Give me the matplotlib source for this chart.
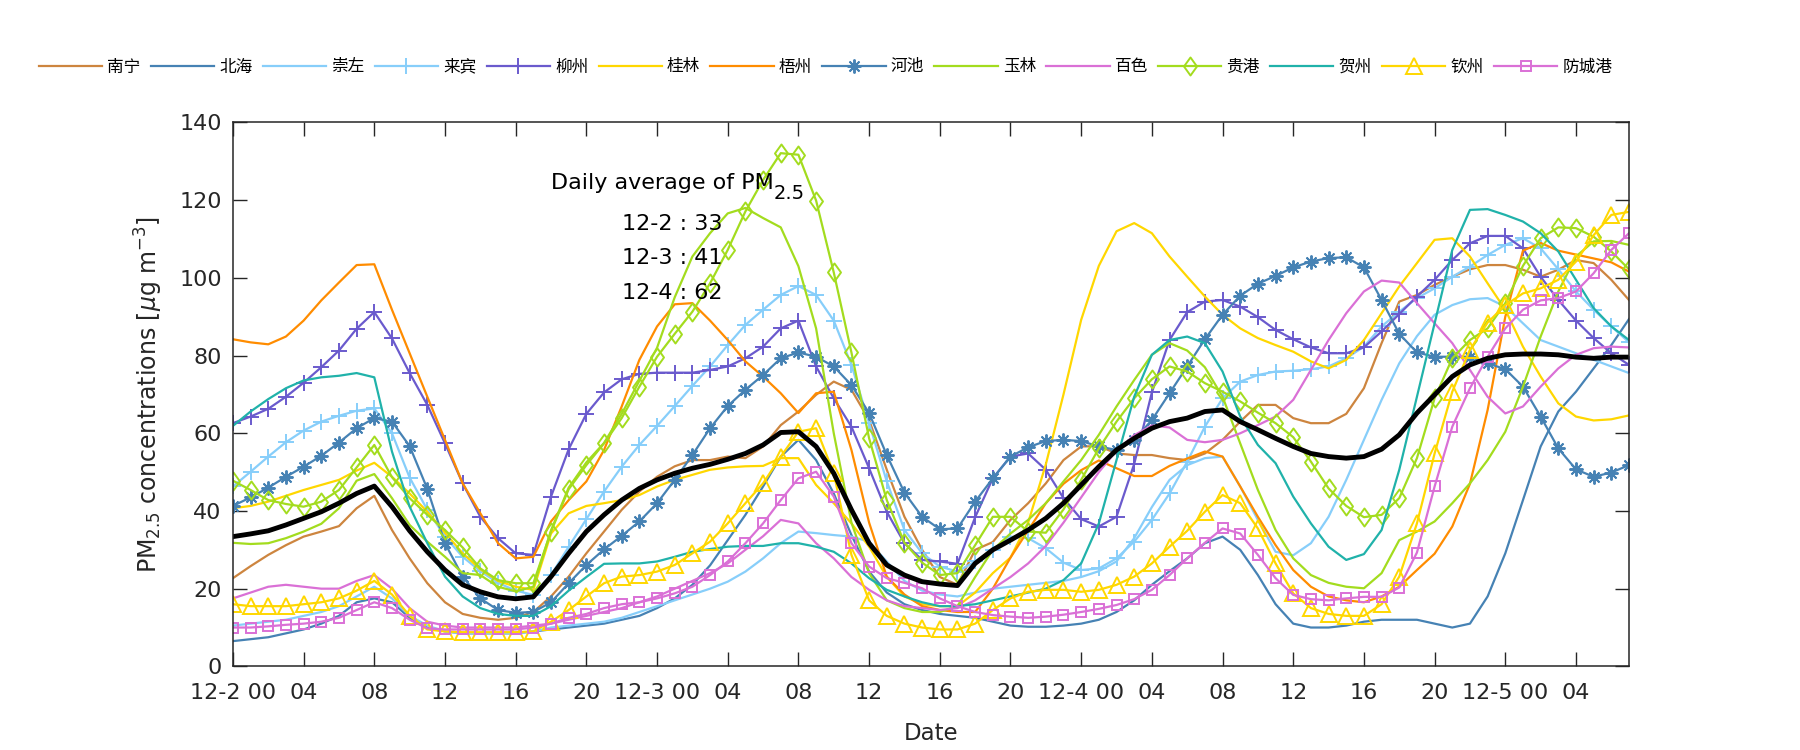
import numpy as np
import matplotlib
matplotlib.use("Agg")
import matplotlib.pyplot as plt
from matplotlib.path import Path

hours = np.arange(80)
tick_pos = list(range(0, 80, 4))
tick_labels = ["12-2 00", "04", "08", "12", "16", "20",
               "12-3 00", "04", "08", "12", "16", "20",
               "12-4 00", "04", "08", "12", "16", "20",
               "12-5 00", "04"]

nanning = [22.7, 25.8, 28.7, 31.2, 33.4, 34.7, 36.1, 40.7, 43.9, 35.1, 27.8, 21.4, 16.5, 13.5, 12.5, 12, 12.5, 14, 18, 23.1,
           29.1, 34.7, 40.3, 45, 48.8, 51.5, 53.1, 53.1, 54, 53.6, 56.6, 62.1, 65.6, 69.9, 73.3, 71.2, 63.4, 50.6, 38.5, 30,
           23, 21, 30, 32, 37.7, 42, 47.1, 53.1, 56.6, 56.7, 54.8, 54.4, 54.4, 53.6, 53.1, 54.8, 58.3, 63, 67.3, 67.3,
           63.9, 62.6, 62.6, 65, 71.6, 83.2, 93.9, 95.6, 98.2, 100.3, 102.2, 103.3, 103.3, 102.1, 100.3, 102.1, 104.6, 103.8, 99.5, 94.3]
beihai = [6.5, 7, 7.5, 8.5, 9.5, 11, 13, 16.5, 17.5, 16.5, 12.5, 10, 9, 8.5, 8.5, 8.5, 8.5, 9, 9.5, 10,
          10.5, 11, 12, 13, 15, 17.5, 21, 26, 32.5, 39, 46.3, 54, 58.3, 53.1, 44.5, 33.8, 24.4, 19, 16, 14.5,
          13.5, 13, 12.5, 11.5, 10.5, 10.2, 10.2, 10.5, 11, 12, 14, 17, 21, 24.5, 27.8, 31.7, 33.4, 30, 23.5, 16,
          11, 10, 10, 10.5, 11.5, 12, 12, 12, 11, 10, 11, 18, 29.1, 42.8, 56.6, 65.6, 70.7, 76.7, 82.7, 89.4]
chongzuo = [10.5, 11, 11.5, 12, 13, 14, 15.5, 18, 20.5, 17.5, 13, 10.5, 9, 8.5, 8.5, 8.5, 8.5, 9, 10, 10.5,
            11, 11.5, 12.5, 14, 15.5, 17, 18.5, 20, 21.8, 24.4, 27.8, 31.7, 34.7, 34.3, 33.8, 33.4, 32.1, 27, 22, 19.5,
            18.5, 18, 19, 20, 20.5, 21, 21.5, 22, 23, 24.5, 27, 33, 41, 48, 51.8, 53.6, 54, 46.3, 37.7, 29.5,
            28.6, 31.7, 38.5, 48, 58.3, 68.6, 78, 85, 90.5, 93, 94.5, 94.8, 92.6, 88.3, 84, 82.3, 80.6, 78.9, 77.2, 75.5]
laibin = [46.3, 50.1, 54, 57.7, 60.7, 63, 64.5, 65.8, 66.4, 60, 48.6, 40.3, 33.4, 28.2, 24.5, 21.5, 19.5, 18.4, 23.5, 30.8,
          37.9, 45, 51.4, 57, 61.9, 67, 72.2, 77.2, 82.7, 87.9, 91.8, 95.6, 97.9, 95.6, 89, 77.6, 62.6, 47.6, 35.1, 29.1,
          25.7, 24.4, 27, 30, 33.4, 33, 30.4, 26.7, 24.8, 25.2, 27.8, 32.1, 37.7, 44.5, 52.7, 61.7, 69, 73.3, 75, 75.9,
          76.1, 76.5, 77.2, 79.3, 82.3, 87.5, 91.3, 94.8, 97.3, 100.3, 102.9, 105.9, 108.5, 110.2, 107.6, 102.2, 96.5, 91.8, 87.5, 83.4]
liuzhou = [62.6, 64.3, 66.3, 69.4, 73, 77, 81.3, 86.9, 91.2, 84.4, 75.5, 67.3, 57.4, 47.1, 38.5, 33, 29.1, 28.7, 43.7, 55.9,
           65, 70.5, 73.9, 75.3, 75.6, 75.6, 75.6, 76.3, 77.2, 79.3, 82.3, 87, 89, 77.2, 69, 61.7, 51, 39.8, 31.7, 27.4,
           27, 26.4, 38.4, 48.4, 54, 54.8, 50.6, 43.3, 37.9, 36, 38.5, 52.1, 70.5, 84, 91.2, 93.9, 94.3, 92.6, 89.9, 86.6,
           84.2, 82.1, 80.6, 80.6, 82.1, 86.2, 90.7, 95.2, 99.5, 104.6, 108.9, 110.8, 110.8, 107.6, 100.3, 94.3, 89, 84.5, 80.6, 77.6]
guilin = [40.7, 41.3, 42.4, 43.9, 45.4, 46.7, 48, 50.4, 52.4, 48.8, 44.5, 39.8, 34.4, 29.1, 25, 22, 20.5, 19.7, 34.2, 39.4,
          41.3, 42, 42.8, 44.1, 46.3, 48, 49.3, 50.6, 51.2, 51.5, 51.6, 53.6, 53.6, 46.7, 42, 36.8, 30.8, 23, 18, 16,
          15.5, 15.5, 19, 24, 28, 37, 52, 70, 89.2, 103.1, 112, 114.1, 111.5, 105.5, 100.3, 95.2, 90.5, 87, 84.5, 82.7,
          81, 78.5, 76.7, 78.9, 84, 90.9, 97.8, 103.8, 109.8, 110.2, 105.5, 98.6, 91.8, 82.3, 74.6, 67.7, 64.3, 63.3, 63.6, 64.6]
wuzhou = [84.2, 83.4, 82.9, 84.9, 89, 94.2, 98.8, 103.3, 103.5, 91.8, 80.6, 69.4, 58.3, 47.1, 39.4, 31.7, 27.8, 28.2, 37.3, 42.8,
          47.6, 55.7, 66.9, 78.9, 87.5, 93.2, 93.5, 89, 84, 78.5, 74.6, 70.3, 65.2, 70.3, 70.7, 55.7, 37, 23.1, 18.5, 15.5,
          14.5, 14, 14, 20, 28, 35, 42, 47, 50.5, 53, 51, 49, 49, 51.6, 53.5, 55.3, 54, 46.3, 38.5, 31.2,
          24.8, 20.5, 18, 17, 16.5, 18, 20.5, 24.8, 29, 36, 47, 66, 90, 107, 109, 107, 106, 105, 104, 101.6]
hechi = [41.3, 43.5, 46, 48.8, 51.4, 54.2, 57.6, 61.3, 63.9, 63, 56.7, 45.7, 31.7, 23.1, 17.5, 14.5, 13.8, 14, 16.5, 21.4,
         26.1, 30.1, 33.6, 37.3, 42, 48, 54.4, 61.3, 67, 71.2, 75, 79.3, 80.8, 79.7, 77.2, 72.4, 65.2, 54.4, 44.7, 38.5,
         35.3, 35.5, 42.4, 48.4, 54, 56.4, 58, 58.3, 58, 56.6, 55.7, 58.3, 63.4, 70.3, 77.2, 84.2, 90.5, 95.4, 98.5, 100.5,
         102.7, 104.2, 105.1, 105.3, 102.7, 94.3, 85.6, 80.8, 79.7, 79.7, 79.7, 78, 76.5, 72, 64.3, 56.1, 50.7, 48.8, 49.9, 51.8]
yulin = [31.8, 31.5, 31.7, 33, 34.7, 36.7, 40.7, 47.8, 49.5, 43.3, 36.4, 32.1, 28.2, 24, 23.5, 20.5, 19.3, 20.5, 35, 46,
         52.5, 57.5, 65, 73.5, 82, 95, 105.5, 111.5, 116.6, 118, 115.4, 113, 103, 87, 60, 37, 24, 17, 15, 14,
         14, 15.5, 23, 30, 34.2, 37.7, 42, 47.6, 53.1, 59.6, 66.9, 73.7, 80.2, 83.2, 81.3, 77, 69.4, 57.4, 45.4, 35.1,
         27.8, 23.5, 21.5, 20.5, 20.1, 24, 32.5, 34.7, 37.3, 42, 47.1, 53.1, 60.4, 72, 84.9, 96.5, 105.5, 109.4, 109.5, 108.5]
baise = [17.5, 19, 20.5, 21, 20.5, 20, 20, 22, 23.5, 20, 15, 11.5, 10.5, 10, 10, 10, 10, 10.5, 11, 12,
         13, 14, 15, 16.5, 18, 20, 22, 24, 26.5, 30, 33.5, 37.7, 36.8, 31.7, 27.8, 23, 19.7, 17, 15.5, 15,
         14.5, 15, 17, 20, 23, 26.5, 31, 37, 43.5, 50, 55.5, 59.5, 62, 61.5, 58.3, 57.7, 58.3, 60, 62.1, 64.3,
         68.6, 76.3, 84, 90.9, 96.5, 99.3, 98.8, 93.5, 88.3, 83.2, 76.3, 69.4, 65.1, 66.9, 72, 76.7, 80.2, 81.9, 82.3, 82.1]
guigang = [47.8, 45.4, 42.8, 41.8, 41.1, 42.4, 45.4, 51.2, 57, 48.7, 43.3, 39, 35.1, 30.6, 25.2, 22.2, 21.4, 21.4, 34.7, 45.6,
           51.8, 57.4, 63.9, 72, 79.7, 85.6, 91.3, 98.6, 107.2, 117.1, 125.2, 132.1, 131.7, 119.9, 101.4, 80.8, 58.7, 42.8, 31.8, 26.7,
           23.5, 24, 31.2, 38.5, 38.5, 34.7, 34.4, 40.4, 48, 56.1, 63, 69, 73.9, 77.2, 75.9, 72.9, 70.7, 68.2, 65.3, 62.6,
           59, 52.7, 45.8, 41.3, 38.4, 39, 43.3, 53.6, 69, 79.3, 84, 87, 93.5, 103.1, 110.2, 113, 112.8, 110.6, 106.8, 102.2]
hezhou = [61.9, 65.6, 68.8, 71.6, 73.6, 74.4, 74.8, 75.5, 74.4, 55.3, 41.1, 31.7, 23.1, 18, 15, 13.5, 13, 13, 15.5, 19.5,
          23, 26.4, 26.5, 26.5, 27, 28.2, 29.5, 30.2, 30.8, 31, 31, 31.7, 31.7, 30.8, 29.5, 26.5, 22.7, 19.7, 18, 16.5,
          15.5, 15.5, 16, 17, 18, 19, 20, 22.2, 26.5, 36.8, 53.1, 69.4, 80.2, 84, 84.9, 83.2, 75.9, 64.3, 57, 52.3,
          43.7, 36.8, 30.8, 27.4, 28.9, 35.1, 50.6, 69.4, 88.3, 107.2, 117.5, 117.7, 116.2, 114.5, 111.5, 106.8, 99.5, 92.2, 87.5, 84]
qinzhou = [16, 15.5, 15.5, 15.5, 16, 16.5, 17.5, 19.5, 22, 18.5, 13, 9.5, 9, 8.8, 8.8, 8.8, 8.8, 9, 11.5, 14.5,
           18, 21.4, 23.1, 23.5, 24.4, 26.1, 29.1, 32.1, 36.8, 42, 47.1, 54, 60.4, 61.3, 49.7, 28.7, 17, 13, 11, 10,
           9.5, 9.5, 11, 14.5, 17.5, 19.2, 19.7, 19.7, 19.2, 19.7, 21, 23.1, 26.5, 30.8, 34.9, 39.8, 44.1, 42, 35.5, 26.5,
           18.8, 15, 13.5, 13, 13, 16, 23.1, 36.8, 54.8, 70.7, 81.5, 88.5, 93, 96, 97.3, 99.5, 104.2, 111, 116.2, 117]
fangchenggang = [10, 10, 10.3, 10.7, 11, 11.5, 12.5, 14.5, 16.5, 15, 12, 9.8, 9.5, 9.5, 9.5, 9.5, 9.5, 10, 11, 12.5,
                 13.5, 15, 16, 16.5, 17.5, 18.8, 20.5, 23.5, 27, 31.7, 36.8, 42.8, 48.4, 50.1, 43.7, 31.7, 25.7, 22.7, 21.5, 20.1,
                 17.5, 15.5, 14, 13.2, 12.8, 12.5, 12.8, 13.3, 14, 14.8, 15.8, 17.3, 19.7, 23.5, 27.8, 31.8, 35.5, 34.2, 28.7, 22.7,
                 18.4, 17.3, 17, 17.5, 17.9, 17.9, 20.3, 29.3, 46.3, 61.7, 71.6, 79.7, 87, 91.8, 94.2, 94.8, 96.5, 101.2, 107.2, 111.5]
mean_all = [33.4, 34.1, 34.9, 36.4, 38.1, 39.8, 42, 44.5, 46.4, 41.1, 34.9, 29.5, 24.8, 21, 19.2, 17.9, 17.4, 17.9, 23.1, 29.1,
            34.7, 39, 42.8, 45.8, 48, 49.7, 51, 52, 53.3, 54.8, 57, 60.2, 60.4, 56.6, 49.7, 40.3, 31.7, 26.1, 23.5, 21.8,
            21.2, 20.8, 26.5, 30, 32.5, 35.1, 38.1, 42, 46.7, 51.4, 55.7, 58.7, 61.3, 63, 63.9, 65.6, 66, 63, 60.9, 58.7,
            56.6, 54.8, 54, 53.6, 54, 55.9, 59.6, 65.2, 69.9, 74.6, 77.6, 79.3, 80.2, 80.4, 80.4, 80.2, 79.6, 79.3, 79.6, 79.6]

daily_labels = ["12-2 : 33", "12-3 : 41", "12-4 : 62"]

# diamond a bit wider than matplotlib's 'd'
diamond = Path([(0, 1), (0.72, 0), (0, -1), (-0.72, 0), (0, 1)],
               [Path.MOVETO, Path.LINETO, Path.LINETO, Path.LINETO, Path.CLOSEPOLY])
asterisk = (8, 2, 0)

green = "#A3DC1E"
series = [
    ("南宁", nanning, "#CD853F", None, 0),
    ("北海", beihai, "#4682B4", None, 0),
    ("崇左", chongzuo, "#87CEFA", None, 0),
    ("来宾", laibin, "#87CEFA", "+", 12),
    ("柳州", liuzhou, "#6A5ACD", "+", 12),
    ("桂林", guilin, "#FFD700", None, 0),
    ("梧州", wuzhou, "#FF8C00", None, 0),
    ("河池", hechi, "#4682B4", asterisk, 10),
    ("玉林", yulin, green, None, 0),
    ("百色", baise, "#DA70D6", None, 0),
    ("贵港", guigang, green, diamond, 13),
    ("贺州", hezhou, "#20B2AA", None, 0),
    ("钦州", qinzhou, "#FFD700", "^", 12),
    ("防城港", fangchenggang, "#DA70D6", "s", 7.5),
]

plt.rcParams["font.family"] = ["DejaVu Sans"]
fig = plt.figure(figsize=(18, 7.5), dpi=100)
ax = fig.add_axes([0.1294, 0.1115, 0.7756, 0.7252])

handles = []
for name, vals, col, mk, ms in series:
    h, = ax.plot(hours, vals, color=col, lw=1.6, marker=mk, markersize=ms,
                 markerfacecolor="none", markeredgecolor=col, markeredgewidth=1.4,
                 label=name)
    handles.append(h)
ax.plot(hours, mean_all, color="black", lw=3.5)

title_txt = ax.text(18, 124.3, "Daily average of PM", fontsize=16, va="center", ha="left")
ax.annotate("2.5", xy=(1, 0), xycoords=title_txt, xytext=(0, -7),
            textcoords="offset points", fontsize=14, ha="left", va="bottom")
for i, lab in enumerate(daily_labels):
    ax.text(22, 113.9 - 8.85 * i, lab, fontsize=16, va="center", ha="left")

ax.set_xlim(0, 79)
ax.set_ylim(0, 140)
ax.set_xticks(tick_pos)
ax.set_xticklabels(tick_labels)
ax.set_yticks(range(0, 141, 20))
ax.tick_params(direction="in", length=10, width=1, top=True, right=True,
               labelsize=16, colors="#262626", pad=12)
ax.tick_params(axis="y", pad=8)
for s in ax.spines.values():
    s.set_color("#262626")
    s.set_linewidth(1.1)
ax.set_xlabel("Date", fontsize=16.5, color="#262626", labelpad=14)
ax.set_ylabel("PM$_{2.5}$ concentrations [$\\mu$g m$^{-3}$]", fontsize=17,
              color="#262626", labelpad=10)

fig.legend(handles=handles, loc="center left", bbox_to_anchor=(39 / 1800, 1 - 67 / 750),
           ncol=14, frameon=False, handlelength=3.8, handletextpad=0.3,
           columnspacing=0.62, borderpad=0, borderaxespad=0,
           prop={"family": ["Noto Sans CJK SC", "DejaVu Sans"], "size": 12})

fig.savefig("out.png", dpi=100)
